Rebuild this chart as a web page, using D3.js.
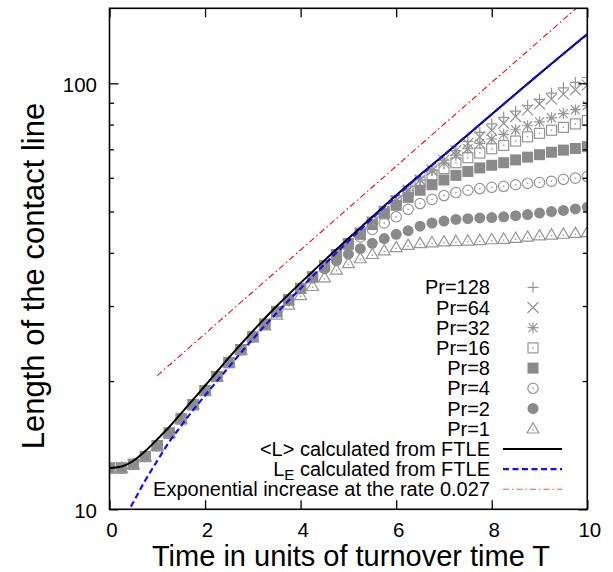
<!DOCTYPE html>
<html>
<head>
<meta charset="utf-8">
<script src="https://cdn.jsdelivr.net/npm/d3@7"></script>
<style>
  body { margin: 0; background: #fff; }
  text { font-family: "Liberation Sans", Arial, Helvetica, sans-serif; }
</style>
</head>
<body>
<svg id="chart" width="613" height="572"></svg>
<script>
// sample times of the Pr series (units of T)
const times = [0, 0.25, 0.5, 0.75, 1, 1.25, 1.5, 1.75, 2, 2.25, 2.5, 2.75, 3, 3.25, 3.5, 3.75,
  4, 4.25, 4.5, 4.75, 5, 5.25, 5.5, 5.75, 6, 6.25, 6.5, 6.75, 7, 7.25, 7.5, 7.75,
  8, 8.25, 8.5, 8.75, 9, 9.25, 9.5, 9.75, 10];

const pr128 = [12.5, 12.5, 12.75, 13.3, 14.1, 15.1, 16.3, 17.6, 19.0, 20.5, 22.1, 23.7, 25.4, 27.2, 29.1, 31.0,
  33.0, 35.1, 37.3, 39.6, 42.0, 44.5, 47.2, 50.0, 53.0, 56.1, 59.3, 62.6, 66.0, 69.5, 73.1, 76.7,
  80.3, 83.2, 86.0, 88.7, 91.7, 94.8, 97.6, 100.5, 103.2];
const pr64 = [12.5, 12.5, 12.75, 13.3, 14.1, 15.1, 16.3, 17.6, 19.0, 20.5, 22.1, 23.7, 25.4, 27.2, 29.1, 31.0,
  33.0, 35.1, 37.3, 39.6, 42.0, 44.5, 47.2, 50.0, 53.0, 56.1, 59.3, 62.6, 66.0, 69.5, 72.3, 74.8,
  77.6, 80.6, 83.6, 86.6, 89.4, 91.8, 94.3, 96.6, 99.0];
const pr32 = [12.5, 12.5, 12.75, 13.3, 14.1, 15.1, 16.3, 17.6, 19.0, 20.5, 22.1, 23.7, 25.4, 27.2, 29.1, 31.0,
  33.0, 35.1, 37.3, 39.6, 42.0, 44.5, 47.2, 50.0, 53.0, 56.1, 59.3, 62.3, 65.0, 67.8, 70.2, 72.3,
  74.0, 75.9, 77.8, 79.5, 81.2, 83.0, 84.9, 86.7, 88.7];
const pr16 = [12.5, 12.5, 12.75, 13.3, 14.1, 15.1, 16.3, 17.6, 19.0, 20.5, 22.1, 23.7, 25.4, 27.2, 29.1, 31.0,
  33.0, 35.1, 37.3, 39.6, 42.0, 44.5, 47.2, 50.0, 53.0, 55.8, 58.6, 61.0, 63.1, 65.1, 66.9, 68.6,
  70.2, 71.5, 73.2, 74.9, 76.3, 77.6, 78.8, 80.3, 81.8];
const pr8 = [12.5, 12.5, 12.75, 13.3, 14.1, 15.1, 16.3, 17.6, 19.0, 20.5, 22.1, 23.7, 25.4, 27.2, 29.1, 31.0,
  33.0, 35.1, 37.3, 39.6, 42.0, 44.2, 46.6, 49.4, 51.7, 54.0, 56.1, 57.8, 59.3, 60.8, 62.1, 63.3,
  64.2, 65.1, 66.1, 67.1, 68.0, 68.9, 69.7, 70.3, 71.0];
const pr4 = [12.5, 12.5, 12.75, 13.3, 14.1, 15.1, 16.3, 17.6, 19.0, 20.5, 22.1, 23.7, 25.4, 27.2, 29.1, 31.0,
  33.0, 35.1, 37.3, 39.3, 41.5, 43.6, 45.4, 47.0, 48.6, 50.6, 52.2, 53.4, 54.5, 55.4, 56.1, 56.6,
  57.0, 57.3, 57.8, 58.2, 58.5, 58.9, 59.5, 59.9, 60.4];
const pr2 = [12.5, 12.5, 12.75, 13.3, 14.1, 15.1, 16.3, 17.6, 19.0, 20.5, 22.1, 23.7, 25.4, 27.2, 29.1, 31.0,
  33.0, 34.9, 36.7, 38.3, 39.7, 40.9, 42.1, 43.2, 44.2, 45.1, 46.2, 47.0, 47.5, 47.9, 48.1, 48.3,
  48.4, 48.6, 48.9, 49.2, 49.6, 50.0, 50.3, 50.7, 51.2];
const pr1 = [12.5, 12.5, 12.75, 13.3, 14.1, 15.1, 16.3, 17.6, 19.0, 20.5, 22.1, 23.7, 25.4, 27.0, 28.6, 30.2,
  31.8, 33.4, 35.0, 36.5, 37.8, 38.8, 39.7, 40.5, 41.2, 41.7, 42.1, 42.3, 42.5, 42.6, 42.7, 42.8,
  43.0, 43.1, 43.3, 43.6, 43.9, 44.1, 44.3, 44.5, 44.7];

// <L> from FTLE
const meanT = [0, 0.25, 0.5, 0.75, 1, 1.25, 1.5, 1.75, 2, 2.5, 3, 3.5, 4, 4.5, 5, 5.5, 6, 6.5, 7, 7.5, 8, 8.5, 9, 9.5, 10];
const meanL = [12.5, 12.6, 13.0, 13.7, 14.6, 15.6, 16.8, 18.1, 19.5, 22.7, 26.2, 30.0, 34.0, 38.4, 43.2, 48.6, 54.6, 61.0, 67.9, 75.7, 84.6, 94.4, 105.3, 117.3, 130.5];

// L_E from FTLE
const leT = [0.35, 0.5, 0.75, 1, 1.25, 1.5, 1.75, 2, 2.5, 3, 3.5, 4, 4.5, 5, 5.5, 6, 7, 8, 9, 10];
const leL = [9.7, 10.4, 11.7, 13.0, 14.4, 15.7, 17.1, 18.5, 21.6, 25.1, 28.9, 33.0, 37.6, 42.6, 48.2, 54.3, 67.8, 84.6, 105.3, 130.3];

// exponential reference line
const expT = [1, 10];
const expL = [20.6, 158];

const xTicks = [0, 2, 4, 6, 8, 10];
const yMajor = [10, 100];
const yMinor = [20, 30, 40, 50, 60, 70, 80, 90];

const series = [
  { label: "Pr=128", values: pr128, symbol: "plus" },
  { label: "Pr=64", values: pr64, symbol: "cross" },
  { label: "Pr=32", values: pr32, symbol: "star" },
  { label: "Pr=16", values: pr16, symbol: "boxOpen" },
  { label: "Pr=8", values: pr8, symbol: "boxFill" },
  { label: "Pr=4", values: pr4, symbol: "circOpen" },
  { label: "Pr=2", values: pr2, symbol: "circFill" },
  { label: "Pr=1", values: pr1, symbol: "triOpen" }
];

const svg = d3.select("#chart");
const plotL = 109.5, plotR = 587.3, plotT = 8.3, plotB = 509.3;
const gray = "#8a8a8a";
const lightGray = "#959595";

const x = d3.scaleLinear().domain([0, 10]).range([plotL, plotR]);
const y = d3.scaleLog().domain([10, 150]).range([plotB, plotT]);

svg.append("defs").append("clipPath").attr("id", "plotclip")
  .append("rect")
  .attr("x", plotL).attr("y", plotT)
  .attr("width", plotR - plotL).attr("height", plotB - plotT);

// marker drawing
function drawSymbol(g, kind, cx, cy) {
  const s = 5.5;
  if (kind === "plus") {
    g.append("path").attr("d", `M${cx - s},${cy}H${cx + s}M${cx},${cy - s}V${cy + s}`)
      .attr("stroke", lightGray).attr("stroke-width", 1.2).attr("fill", "none");
  } else if (kind === "cross") {
    g.append("path").attr("d", `M${cx - s},${cy - s}L${cx + s},${cy + s}M${cx - s},${cy + s}L${cx + s},${cy - s}`)
      .attr("stroke", lightGray).attr("stroke-width", 1.2).attr("fill", "none");
  } else if (kind === "star") {
    g.append("path").attr("d", `M${cx - s},${cy}H${cx + s}M${cx},${cy - s}V${cy + s}` +
        `M${cx - 4.5},${cy - 4.5}L${cx + 4.5},${cy + 4.5}M${cx - 4.5},${cy + 4.5}L${cx + 4.5},${cy - 4.5}`)
      .attr("stroke", lightGray).attr("stroke-width", 1.2).attr("fill", "none");
  } else if (kind === "boxOpen") {
    g.append("rect").attr("x", cx - 5).attr("y", cy - 5).attr("width", 10).attr("height", 10)
      .attr("fill", "none").attr("stroke", lightGray).attr("stroke-width", 1.2);
    g.append("rect").attr("x", cx - 0.7).attr("y", cy - 0.7).attr("width", 1.4).attr("height", 1.4).attr("fill", lightGray);
  } else if (kind === "boxFill") {
    g.append("rect").attr("x", cx - 5.5).attr("y", cy - 5.5).attr("width", 11).attr("height", 11)
      .attr("fill", gray);
  } else if (kind === "circOpen") {
    g.append("circle").attr("cx", cx).attr("cy", cy).attr("r", 5.2)
      .attr("fill", "none").attr("stroke", lightGray).attr("stroke-width", 1.2);
    g.append("rect").attr("x", cx - 0.7).attr("y", cy - 0.7).attr("width", 1.4).attr("height", 1.4).attr("fill", lightGray);
  } else if (kind === "circFill") {
    g.append("circle").attr("cx", cx).attr("cy", cy).attr("r", 5.5).attr("fill", gray);
  } else if (kind === "triOpen") {
    g.append("path").attr("d", `M${cx},${cy - 6}L${cx + 6},${cy + 4.3}L${cx - 6},${cy + 4.3}Z`)
      .attr("fill", "none").attr("stroke", lightGray).attr("stroke-width", 1.2);
    g.append("rect").attr("x", cx - 0.7).attr("y", cy + 0.3).attr("width", 1.4).attr("height", 1.4).attr("fill", lightGray);
  }
}

// Pr point series
const pts = svg.append("g").attr("clip-path", "url(#plotclip)");
series.forEach(s => {
  const g = pts.append("g");
  s.values.forEach((v, i) => drawSymbol(g, s.symbol, x(times[i]), y(v)));
});

// lines
const lineGen = d3.line()
  .x(d => x(d[0]))
  .y(d => y(d[1]))
  .curve(d3.curveMonotoneX);

const lines = svg.append("g").attr("clip-path", "url(#plotclip)");

lines.append("path")
  .datum(expT.map((t, i) => [t, expL[i]]))
  .attr("d", d3.line().x(d => x(d[0])).y(d => y(d[1])))
  .attr("fill", "none")
  .attr("stroke", "#ff0000")
  .attr("stroke-width", 1.1)
  .attr("stroke-dasharray", "6,3,1.5,3");

lines.append("path")
  .datum(meanT.map((t, i) => [t, meanL[i]]))
  .attr("d", lineGen)
  .attr("fill", "none")
  .attr("stroke", "#000")
  .attr("stroke-width", 2);

lines.append("path")
  .datum(leT.map((t, i) => [t, leL[i]]))
  .attr("d", lineGen)
  .attr("fill", "none")
  .attr("stroke", "#1010ff")
  .attr("stroke-width", 2.2)
  .attr("stroke-dasharray", "6,3.5");

// axes (ticks inward, mirrored)
const xAxisB = svg.append("g")
  .attr("transform", `translate(0,${plotB})`)
  .call(d3.axisBottom(x).tickValues(xTicks).tickSize(-9).tickPadding(13.5).tickFormat(d3.format("d")));
svg.append("g")
  .attr("transform", `translate(0,${plotT})`)
  .call(d3.axisTop(x).tickValues(xTicks).tickSize(-9).tickFormat(""));

const yAxisL = svg.append("g")
  .attr("transform", `translate(${plotL},0)`)
  .call(d3.axisLeft(y).tickValues(yMajor).tickSize(-9).tickPadding(12.5).tickFormat(d3.format("d")));
svg.append("g")
  .attr("transform", `translate(${plotL},0)`)
  .call(d3.axisLeft(y).tickValues(yMinor).tickSize(-4.5).tickFormat(""));
svg.append("g")
  .attr("transform", `translate(${plotR},0)`)
  .call(d3.axisRight(y).tickValues(yMajor).tickSize(-9).tickFormat(""));
svg.append("g")
  .attr("transform", `translate(${plotR},0)`)
  .call(d3.axisRight(y).tickValues(yMinor).tickSize(-4.5).tickFormat(""));

svg.selectAll(".domain").remove();
svg.selectAll(".tick line").attr("stroke", "#000").attr("stroke-width", 1.3);
svg.selectAll(".tick text").attr("font-size", 20.5).attr("fill", "#000")
  .style("font-family", '"Liberation Sans", Arial, sans-serif');
xAxisB.selectAll(".tick text").attr("dx", 2);
yAxisL.selectAll(".tick text").attr("dy", "0.38em");

svg.append("rect")
  .attr("x", plotL).attr("y", plotT)
  .attr("width", plotR - plotL).attr("height", plotB - plotT)
  .attr("fill", "none").attr("stroke", "#000").attr("stroke-width", 1.6);

// axis titles
svg.append("text")
  .attr("x", 351).attr("y", 566)
  .attr("text-anchor", "middle")
  .attr("font-size", 29)
  .text("Time in units of turnover time T");

svg.append("text")
  .attr("transform", "translate(44,276) rotate(-90)")
  .attr("text-anchor", "middle")
  .attr("font-size", 31)
  .text("Length of the contact line");

// legend
const legTextX = 490, legSymX = 533, legY0 = 287.3, legDy = 20.2;
const leg = svg.append("g").attr("font-size", 20);
series.forEach((s, i) => {
  const cy = legY0 + i * legDy;
  leg.append("text").attr("x", legTextX).attr("y", cy + 7).attr("text-anchor", "end").text(s.label);
  drawSymbol(leg, s.symbol, legSymX, cy);
});

const lineLegend = [
  { label: "<L> calculated from FTLE", stroke: "#000", width: 2, dash: null },
  { label: "L", sub: "E", rest: " calculated from FTLE", stroke: "#1010ff", width: 2.2, dash: "6,3.5" },
  { label: "Exponential increase at the rate 0.027", stroke: "#ff5050", width: 1.1, dash: "6,3,1.5,3" }
];
lineLegend.forEach((l, j) => {
  const cy = legY0 + (series.length + j) * legDy;
  const t = leg.append("text").attr("x", legTextX).attr("y", cy + 7).attr("text-anchor", "end");
  if (l.sub) {
    t.append("tspan").text(l.label);
    t.append("tspan").attr("dy", 4).attr("font-size", 15).text(l.sub);
    t.append("tspan").attr("dy", -4).text(l.rest);
  } else {
    t.text(l.label);
  }
  leg.append("line")
    .attr("x1", 503).attr("x2", 562)
    .attr("y1", cy).attr("y2", cy)
    .attr("stroke", l.stroke).attr("stroke-width", l.width)
    .attr("stroke-dasharray", l.dash);
});
</script>
</body>
</html>
